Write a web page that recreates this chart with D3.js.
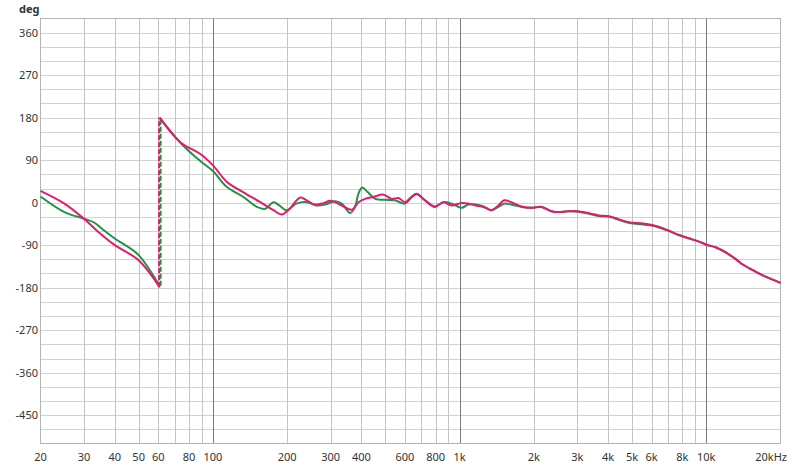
<!DOCTYPE html>
<html>
<head>
<meta charset="utf-8">
<script src="https://cdn.jsdelivr.net/npm/d3@7/dist/d3.min.js"></script>
<style>
  body { margin: 0; background: #fff; }
  svg text { font-family: "Noto Sans", "Open Sans", sans-serif; fill: #333; }
</style>
</head>
<body>
<div id="chart"></div>
<script>
// measured phase, magenta trace
var pinkFreq = [20, 25, 30, 35, 40, 50, 60.8, 60.8, 73.8, 88.9, 100, 114, 133, 155.6, 176, 190, 202, 226, 240, 259, 281, 300,
  333, 366, 389, 414, 447, 491, 531, 565, 601, 637, 670, 724, 794, 859, 929, 1010, 1084, 1162, 1250, 1348, 1436, 1517,
  1620, 1784, 1958, 2148, 2360, 2507, 2750, 3020, 3319, 3665, 4064, 4456, 4896, 5546, 6086, 6892, 7800, 8568, 9400,
  10000, 10970, 12046, 13214, 14060, 15450, 16950, 18600, 20000];
var pinkPhase = [25, -2, -34, -66, -90, -122, -179, 180, 128, 103, 79, 44, 22, 1, -16, -25, -16, 11, 5, -4, -1, 4,
  -6, -15, 1, 8, 12, 17, 8, 10, 1, 12, 19, 5, -9, 1, -6, -1, -2, -6, -9, -16, -6, 5,
  1, -8, -11, -9, -18, -20, -18, -18, -22, -27, -29, -36, -42, -44, -48, -57, -69, -76, -83,
  -89, -95, -106, -120, -131, -143, -154, -163, -170];

// measured phase, green trace
var greenFreq = [20, 25, 30, 33, 36, 40, 50, 60.8, 60.8, 73.8, 88.9, 100, 114, 133, 150.8, 163, 176, 186, 199, 218, 240, 263, 285,
  313, 333, 360, 377, 389, 403, 425, 455, 498, 546, 601, 637, 670, 724, 794, 859, 929, 1019, 1084, 1162, 1250, 1348, 1436, 1527,
  1620, 1784, 1958, 2148, 2360, 2507, 2750, 3020, 3319, 3665, 4064, 4456, 4896, 5546, 6086, 6892, 7800, 8568, 9400,
  10000, 10970, 12046, 13214, 14060, 15450, 16950, 18600, 20000];
var greenPhase = [13, -20, -34, -42, -58, -76, -111, -176, 180, 127, 88, 67, 33, 12, -9, -13, 1, -6, -16, -2, 1, -6, -4,
  3, -2, -22, -9, 19, 32, 22, 8, 6, 5, -2, 11, 18, 5, -8, 1, -2, -11, -4, -4, -8, -16, -9, -2,
  -4, -9, -11, -9, -18, -20, -18, -19, -23, -28, -30, -37, -43, -46, -49, -58, -69, -76, -83,
  -89, -95, -106, -120, -131, -143, -154, -163, -170];

// axes ticks
var freqGrid = [20, 30, 40, 50, 60, 70, 80, 90, 100, 200, 300, 400, 500, 600, 700, 800, 900,
  1000, 2000, 3000, 4000, 5000, 6000, 7000, 8000, 9000, 10000, 20000];
var decadeLines = [100, 1000, 10000];
var freqLabels = [20, 30, 40, 50, 60, 80, 100, 200, 300, 400, 600, 800, 1000, 2000, 3000, 4000, 5000, 6000, 8000, 10000, 20000];
var degTicks = [360, 270, 180, 90, 0, -90, -180, -270, -360, -450];

var width = 800, height = 468;

var svg = d3.select("#chart").append("svg")
  .attr("width", width)
  .attr("height", height);

svg.append("rect").attr("width", width).attr("height", height).attr("fill", "#fff");

var x = d3.scaleLog().domain([20, 20000]).range([40.5, 780.5]);
var y = d3.scaleLinear().domain([-510, 390]).range([443.5, 18.5]);

// horizontal grid, every 30 deg
svg.append("g").selectAll("line")
  .data(d3.range(-480, 390, 30))
  .enter().append("line")
  .attr("x1", x.range()[0]).attr("x2", x.range()[1])
  .attr("y1", function(d) { return Math.round(y(d)) + 0.5; })
  .attr("y2", function(d) { return Math.round(y(d)) + 0.5; })
  .attr("stroke", "#d2d2d2");

// vertical grid
svg.append("g").selectAll("line")
  .data(freqGrid.slice(1, -1))
  .enter().append("line")
  .attr("x1", function(d) { return Math.round(x(d)) + 0.5; })
  .attr("x2", function(d) { return Math.round(x(d)) + 0.5; })
  .attr("y1", y.range()[1]).attr("y2", y.range()[0])
  .attr("stroke", function(d) { return decadeLines.indexOf(d) > -1 ? "#7a7a7a" : "#c4c4c4"; });

// frame
svg.append("rect")
  .attr("x", x.range()[0]).attr("y", y.range()[1])
  .attr("width", x.range()[1] - x.range()[0])
  .attr("height", y.range()[0] - y.range()[1])
  .attr("fill", "none")
  .attr("stroke", "#b4b4b4");

// y labels
svg.append("g").selectAll("text")
  .data(degTicks)
  .enter().append("text")
  .attr("x", 38)
  .attr("y", function(d) { return y(d); })
  .attr("dy", "0.35em")
  .attr("text-anchor", "end")
  .attr("font-size", 11)
  .text(function(d) { return d; });

svg.append("text")
  .attr("x", 19).attr("y", 13)
  .attr("font-size", 11)
  .attr("font-weight", "bold")
  .text("deg");

// x labels
function fmt(f) {
  if (f == 20000) return "20kHz";
  return f >= 1000 ? (f / 1000) + "k" : f;
}
svg.append("g").selectAll("text")
  .data(freqLabels)
  .enter().append("text")
  .attr("x", function(d) { return d == 20000 ? 787 : x(d); })
  .attr("y", 461)
  .attr("text-anchor", function(d) { return d == 20000 ? "end" : "middle"; })
  .attr("font-size", 11)
  .text(fmt);

// splits a trace at phase wraps, draws solid parts and dashed jumps
var line = d3.line()
  .x(function(d) { return x(d[0]); })
  .y(function(d) { return y(d[1]); })
  .curve(d3.curveCatmullRom.alpha(0.5));

function drawTrace(freq, phase, color, shift) {
  var segs = [[]], jumps = [];
  freq.forEach(function(f, i) {
    if (i > 0 && Math.abs(phase[i] - phase[i - 1]) > 180) {
      jumps.push([f, phase[i - 1], phase[i]]);
      segs.push([]);
    }
    segs[segs.length - 1].push([f, phase[i]]);
  });

  svg.append("g").selectAll("path")
    .data(segs)
    .enter().append("path")
    .attr("d", line)
    .attr("fill", "none")
    .attr("stroke", color)
    .attr("stroke-width", 2)
    .attr("stroke-linejoin", "round");

  svg.append("g").selectAll("line")
    .data(jumps)
    .enter().append("line")
    .attr("x1", function(d) { return x(d[0]) + shift; })
    .attr("x2", function(d) { return x(d[0]) + shift; })
    .attr("y1", function(d) { return y(d[1]); })
    .attr("y2", function(d) { return y(d[2]); })
    .attr("stroke", color)
    .attr("stroke-width", 2)
    .attr("stroke-dasharray", "5,2");
}

drawTrace(greenFreq, greenPhase, "#1e9445", 1);
drawTrace(pinkFreq, pinkPhase, "#e5196e", -0.5);
</script>
</body>
</html>
